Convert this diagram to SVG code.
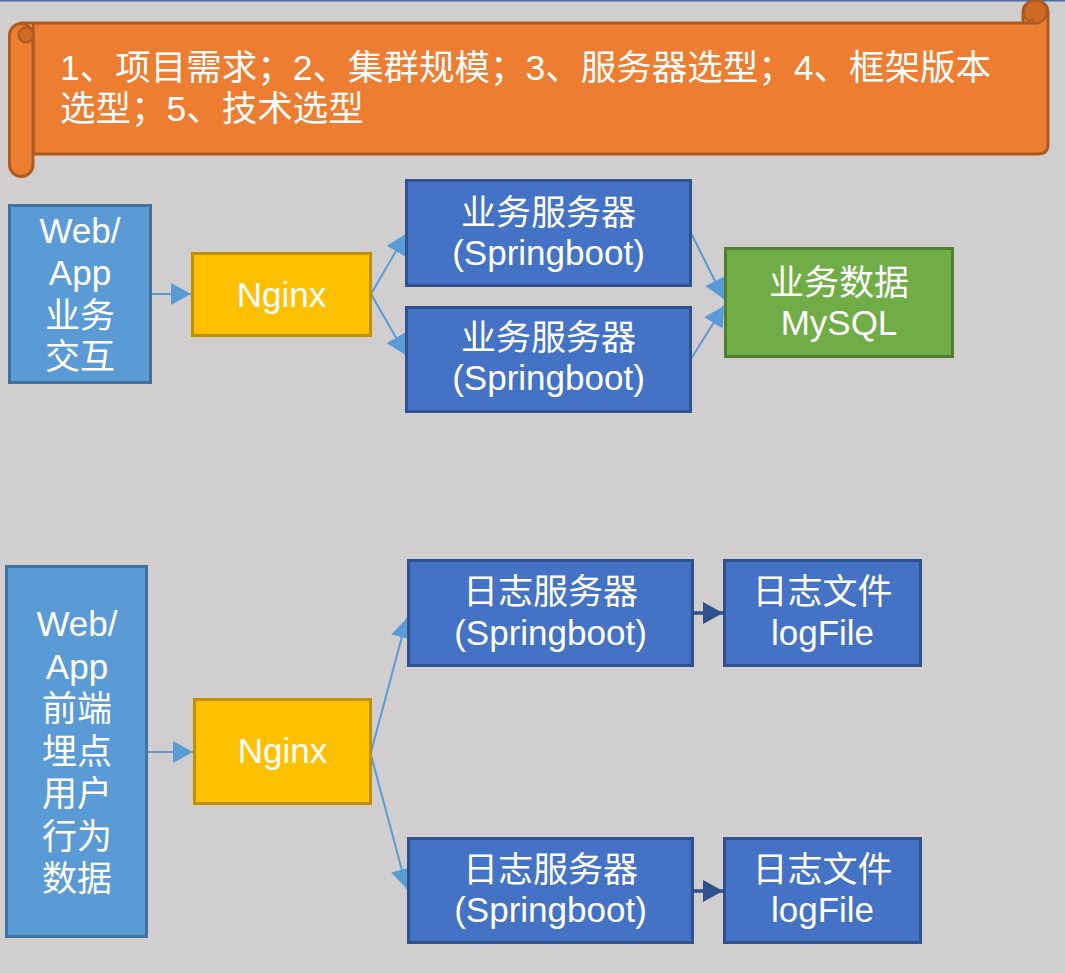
<svg xmlns="http://www.w3.org/2000/svg" width="1065" height="973" viewBox="0 0 1065 973">
<style>
.t{font-family:"Liberation Sans","Noto Sans CJK SC",sans-serif;font-size:35px;fill:#FFFFFF;text-anchor:middle}
.bt{font-family:"Liberation Sans","Noto Sans CJK SC",sans-serif;font-size:35.5px;fill:#FFFFFF}
.wa{fill:#5B9BD5;stroke:#41719C;stroke-width:3}
.ng{fill:#FFC000;stroke:#BF9000;stroke-width:3}
.sv{fill:#4472C4;stroke:#2F528F;stroke-width:3}
.db{fill:#70AD47;stroke:#507E32;stroke-width:3}
.c1{stroke:#5B9BD5;stroke-width:2;fill:none;marker-end:url(#ah)}
.c2{stroke:#2F528F;stroke-width:3.5;fill:none;marker-end:url(#ahd)}
</style>
<defs>
<marker id="ah" markerUnits="userSpaceOnUse" markerWidth="20" markerHeight="22" refX="20" refY="11" orient="auto"><path d="M0,0 L20,11 L0,22 z" fill="#5B9BD5"/></marker>
<marker id="ahd" markerUnits="userSpaceOnUse" markerWidth="20" markerHeight="22" refX="20" refY="11" orient="auto"><path d="M0,0 L20,11 L0,22 z" fill="#2F528F"/></marker>
</defs>
<rect x="0" y="0" width="1065" height="973" fill="#D0CECE"/>
<rect x="0" y="0" width="1065" height="1.5" fill="#4A6FA5"/>
<g id="banner">
<path d="M21,23 H1023 V12 A12.5,11.5 0 0 1 1048,12 V144 Q1048,154 1038,154 H33 V23 Z" fill="#ED7D31" stroke="#AE5A21" stroke-width="3"/>
<circle cx="1035.5" cy="12" r="11.5" fill="#CF6A24" stroke="#AE5A21" stroke-width="2"/>
<path d="M1030,20 H1034" stroke="#AE5A21" stroke-width="2"/>
<path d="M1023,23 H1036" stroke="#AE5A21" stroke-width="3"/>
<rect x="9.5" y="23.5" width="23.5" height="153" rx="11.75" fill="#ED7D31" stroke="#AE5A21" stroke-width="3"/>
<circle cx="26" cy="35" r="7.5" fill="#CF6A24" stroke="#AE5A21" stroke-width="2"/>
<text class="bt" x="60" y="80">1、项目需求；2、集群规模；3、服务器选型；4、框架版本</text>
<text class="bt" x="60" y="121">选型；5、技术选型</text>
</g>
<g id="connectors">
<line class="c1" x1="152" y1="294" x2="191" y2="294"/>
<line class="c1" x1="371" y1="294" x2="406" y2="234"/>
<line class="c1" x1="371" y1="294" x2="406" y2="355"/>
<line class="c1" x1="691" y1="233" x2="724" y2="299"/>
<line class="c1" x1="691" y1="359" x2="724" y2="306"/>
<line class="c1" x1="148" y1="752" x2="193" y2="752"/>
<line class="c1" x1="371" y1="752" x2="407" y2="618"/>
<line class="c1" x1="371" y1="755" x2="407" y2="889"/>
<line class="c2" x1="693" y1="613" x2="723" y2="613"/>
<line class="c2" x1="693" y1="891" x2="723" y2="891"/>
</g>
<g id="webapp1">
<rect class="wa" x="9.5" y="205.5" width="141" height="177"/>
<text class="t" x="80" y="243">Web/</text>
<text class="t" x="80" y="285">App</text>
<text class="t" x="80" y="328">业务</text>
<text class="t" x="80" y="369">交互</text>
</g>
<g id="nginx1">
<rect class="ng" x="192.5" y="253.5" width="178" height="82"/>
<text class="t" x="281.5" y="307">Nginx</text>
</g>
<g id="server1">
<rect class="sv" x="406.5" y="180.5" width="284" height="105"/>
<text class="t" x="548.5" y="225">业务服务器</text>
<text class="t" x="548.5" y="265">(Springboot)</text>
</g>
<g id="server2">
<rect class="sv" x="406.5" y="307.5" width="284" height="104"/>
<text class="t" x="548.5" y="350">业务服务器</text>
<text class="t" x="548.5" y="390">(Springboot)</text>
</g>
<g id="mysql">
<rect class="db" x="725.5" y="248.5" width="227" height="108"/>
<text class="t" x="839" y="295">业务数据</text>
<text class="t" x="839" y="335">MySQL</text>
</g>
<g id="webapp2">
<rect class="wa" x="6.5" y="566.5" width="140" height="370"/>
<text class="t" x="77" y="636">Web/</text>
<text class="t" x="77" y="678.5">App</text>
<text class="t" x="77" y="721">前端</text>
<text class="t" x="77" y="763.5">埋点</text>
<text class="t" x="77" y="806">用户</text>
<text class="t" x="77" y="848.5">行为</text>
<text class="t" x="77" y="891">数据</text>
</g>
<g id="nginx2">
<rect class="ng" x="194.5" y="699.5" width="176" height="104"/>
<text class="t" x="282.5" y="763">Nginx</text>
</g>
<g id="logserver1">
<rect class="sv" x="408.5" y="560.5" width="284" height="105"/>
<text class="t" x="550.5" y="604">日志服务器</text>
<text class="t" x="550.5" y="645">(Springboot)</text>
</g>
<g id="logfile1">
<rect class="sv" x="724.5" y="560.5" width="196" height="105"/>
<text class="t" x="822.5" y="604">日志文件</text>
<text class="t" x="822.5" y="645">logFile</text>
</g>
<g id="logserver2">
<rect class="sv" x="408.5" y="838.5" width="284" height="104"/>
<text class="t" x="550.5" y="882">日志服务器</text>
<text class="t" x="550.5" y="922">(Springboot)</text>
</g>
<g id="logfile2">
<rect class="sv" x="724.5" y="838.5" width="196" height="104"/>
<text class="t" x="822.5" y="882">日志文件</text>
<text class="t" x="822.5" y="922">logFile</text>
</g>
</svg>
